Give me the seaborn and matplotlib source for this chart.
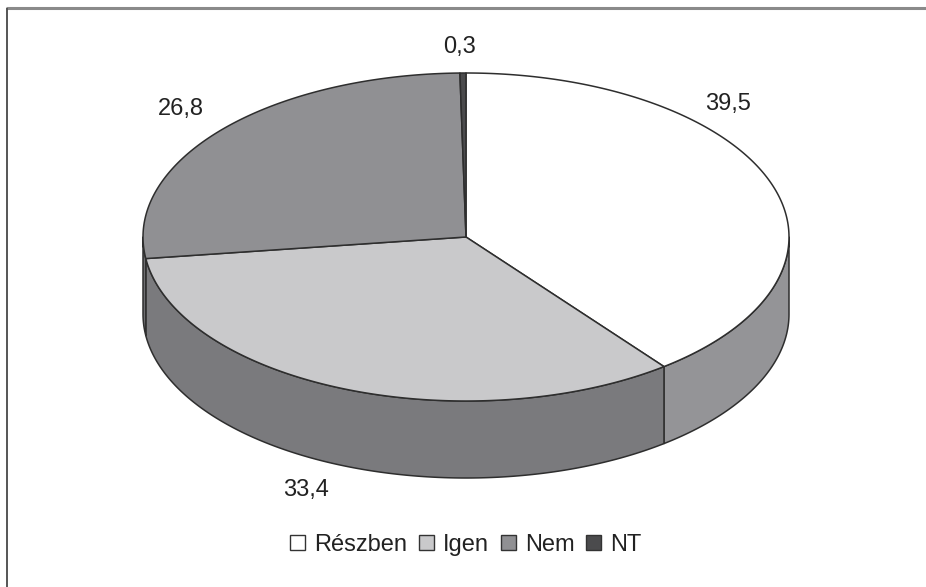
import numpy as np
import matplotlib
matplotlib.use("Agg")
import matplotlib.pyplot as plt
from matplotlib.patches import Polygon, Patch
import seaborn as sns

# Data
categories = ["Részben", "Igen", "Nem", "NT"]
values = [39.5, 33.4, 26.8, 0.3]
value_labels = ["39,5", "33,4", "26,8", "0,3"]

# Greys for the top faces and the darker side walls
top_colors = ["#ffffff", "#c9c9cb", "#909093", "#4b4b4d"]
side_colors = ["#949497", "#7a7a7d", "#6e6e71", "#3c3c3e"]

sns.set_theme(style="white")
plt.rcParams["font.family"] = ["Liberation Sans", "DejaVu Sans"]

W, H = 926, 587
fig = plt.figure(figsize=(W / 100, H / 100), dpi=100)
ax = fig.add_axes([0, 0, 1, 1])
ax.set_xlim(0, W)
ax.set_ylim(H, 0)
ax.axis("off")

# Ellipse geometry of the tilted pie (pixel units)
cx, cy = 466, 237
a, b = 323, 164
depth = 77
edge = "#2e2e2e"


def arc(t1, t2, dy=0.0, n=200):
    t = np.radians(np.linspace(t1, t2, n))
    return np.column_stack([cx + a * np.sin(t), cy - b * np.cos(t) + dy])


total = sum(values)
bounds = np.concatenate([[0], np.cumsum(values) / total * 360])

# Side walls: only the front half (90..270 degrees clockwise from top) is visible
for i in range(len(values)):
    s, e = max(bounds[i], 90), min(bounds[i + 1], 270)
    if e <= s:
        continue
    top = arc(s, e)
    bot = arc(e, s, dy=depth)
    ax.add_patch(Polygon(np.vstack([top, bot]), closed=True,
                         facecolor=side_colors[i], edgecolor=edge,
                         linewidth=1.1, joinstyle="round"))

# Top faces
for i in range(len(values)):
    pts = np.vstack([[cx, cy], arc(bounds[i], bounds[i + 1])])
    ax.add_patch(Polygon(pts, closed=True, facecolor=top_colors[i],
                         edgecolor=edge, linewidth=1.1, joinstyle="round"))

# Value labels
label_pos = [(728, 104), (306, 490), (181, 109), (459, 47)]
for (x, y), txt in zip(label_pos, value_labels):
    ax.text(x, y, txt, ha="center", va="center", fontsize=17, color="#222222")

# Legend
handles = [Patch(facecolor=c, edgecolor="#333333", linewidth=1.0) for c in top_colors]
ax.legend(handles, categories, loc="center", bbox_to_anchor=(466 / W, 1 - 545 / H),
          ncol=4, frameon=False, fontsize=17, handlelength=0.62, handleheight=0.62,
          handletextpad=0.4, columnspacing=0.5, borderpad=0, labelcolor="#222222")

# Frame lines
ax.plot([6, 926], [8, 8], color="#8a8a8a", linewidth=2.2, solid_capstyle="butt")
ax.plot([7, 7], [8, 587], color="#555555", linewidth=1.4, solid_capstyle="butt")

fig.savefig("out.png", dpi=100)
